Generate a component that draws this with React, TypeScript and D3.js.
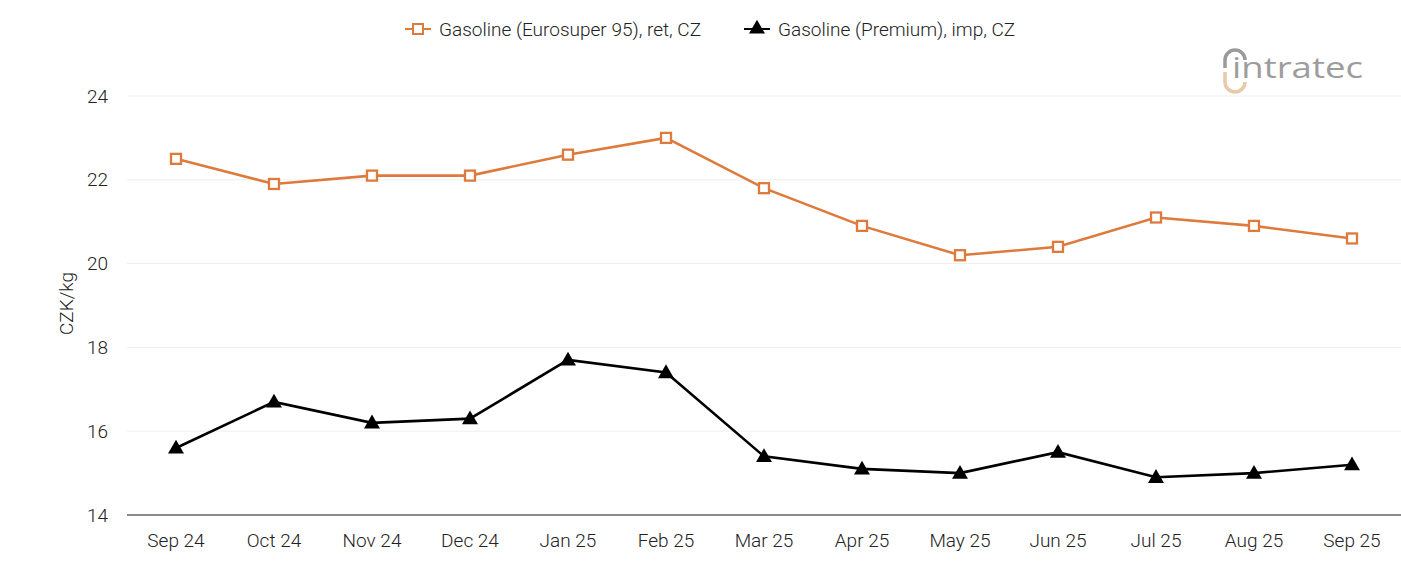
import React from "react";
import * as d3 from "d3";

const months = ["Sep 24","Oct 24","Nov 24","Dec 24","Jan 25","Feb 25","Mar 25","Apr 25","May 25","Jun 25","Jul 25","Aug 25","Sep 25"];
const eurosuper = [22.5,21.9,22.1,22.1,22.6,23.0,21.8,20.9,20.2,20.4,21.1,20.9,20.6];
const premium = [15.6,16.7,16.2,16.3,17.7,17.4,15.4,15.1,15.0,15.5,14.9,15.0,15.2];
const yTicks = [14,16,18,20,22,24];
const seriesNames = ["Gasoline (Eurosuper 95), ret, CZ","Gasoline (Premium), imp, CZ"];

const W = 1401, H = 561;
const left = 127, right = 1401, top = 96, bottom = 515;
const ORANGE = "#dd7a3c";
const FONT = "Roboto, sans-serif";
const FS = 19;

export default function App() {
  const x = d3.scaleBand<string>().domain(months).range([left, right]);
  const cx = (m: string) => (x(m) as number) + x.bandwidth() / 2;
  const y = d3.scaleLinear().domain([14, 24]).range([bottom, top]);
  const line = d3.line<number>().x((_, i) => cx(months[i])).y(d => y(d));
  const tri = d3.symbol().type(d3.symbolTriangle).size(110)();

  return (
    <svg width={W} height={H} style={{ position: "absolute", left: 0, top: 0, background: "#fff" }} fontFamily={FONT} fontWeight={300}>
      {yTicks.map(t => (
        <g key={t}>
          {t !== 14 && <line x1={left} x2={right} y1={y(t)} y2={y(t)} stroke="#efefef" strokeWidth={1} />}
          <text x={108} y={y(t)} dy="0.35em" textAnchor="end" fontSize={FS} fill="#222">{t}</text>
        </g>
      ))}
      <line x1={left} x2={right} y1={bottom} y2={bottom} stroke="#666" strokeWidth={1.5} />
      {months.map(m => (
        <text key={m} x={cx(m)} y={547} textAnchor="middle" fontSize={FS} fill="#222">{m}</text>
      ))}
      <text transform={`translate(73,${(top + bottom) / 2 - 2}) rotate(-90)`} textAnchor="middle" fontSize={FS} fill="#222">CZK/kg</text>

      <path d={line(eurosuper) || ""} fill="none" stroke={ORANGE} strokeWidth={2.6} />
      {eurosuper.map((v, i) => (
        <rect key={i} x={cx(months[i]) - 5} y={y(v) - 5} width={10} height={10} fill="#fff" stroke={ORANGE} strokeWidth={2.3} />
      ))}
      <path d={line(premium) || ""} fill="none" stroke="#000" strokeWidth={2.6} />
      {premium.map((v, i) => (
        <path key={i} d={tri || ""} transform={`translate(${cx(months[i])},${y(v) + 1})`} fill="#000" />
      ))}

      {/* legend */}
      <g>
        <line x1={405} x2={431} y1={29} y2={29} stroke={ORANGE} strokeWidth={2} />
        <rect x={413} y={24} width={10} height={10} fill="#fff" stroke={ORANGE} strokeWidth={2} />
        <text x={439} y={29} dy="0.35em" fontSize={FS} fill="#222">{seriesNames[0]}</text>
        <line x1={744} x2={770} y1={29} y2={29} stroke="#000" strokeWidth={2} />
        <path d={tri || ""} transform="translate(757,29)" fill="#000" />
        <text x={778} y={29} dy="0.35em" fontSize={FS} fill="#222">{seriesNames[1]}</text>
      </g>

      {/* logo */}
      <g>
        <path d="M1225,60 A10,10 0 0 1 1245,60" fill="none" stroke="#9a9a9a" strokeWidth={3.5} />
        <line x1={1225} x2={1225} y1={60} y2={68} stroke="#9a9a9a" strokeWidth={3.5} />
        <path d="M1225,82 A10,10 0 0 0 1245,82" fill="none" stroke="#e8c9a8" strokeWidth={3.5} />
        <line x1={1225} x2={1225} y1={72} y2={82} stroke="#e8c9a8" strokeWidth={3.5} />
        <text x={1232} y={78} fontSize={29} fontWeight={500} fill="#9d9d9d" fontFamily="'Open Sans', sans-serif" textLength={131} lengthAdjust="spacingAndGlyphs">intratec</text>
      </g>
    </svg>
  );
}
